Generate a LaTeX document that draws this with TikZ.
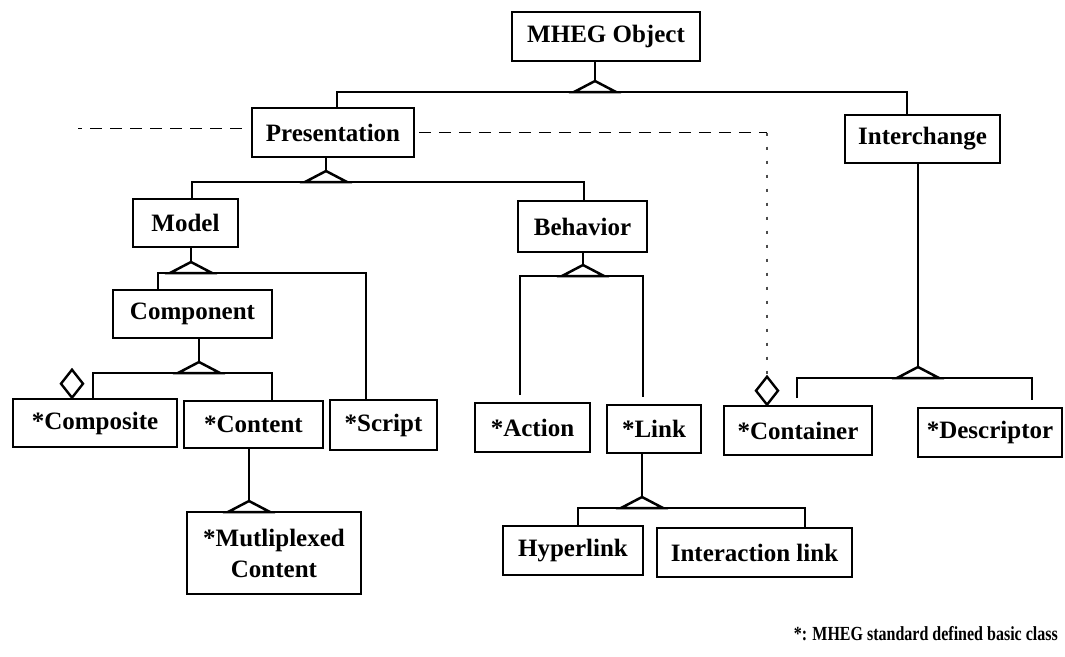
\documentclass[tikz,border=0pt]{standalone}
\usepackage{fontspec}
\setmainfont{Liberation Serif}
\usetikzlibrary{calc}
\begin{document}
\begin{tikzpicture}[x=1pt,y=-1pt,
  cls/.style={draw,line width=2.6pt,inner sep=0pt,fill=white,align=center,
    font=\fontsize{25}{31}\selectfont\bfseries},
  wire/.style={line width=2.5pt},
  gen/.style={draw,line width=2.5pt,fill=white,line join=miter},
  agg/.style={draw,line width=2.4pt,fill=white},
  dep/.style={line width=1.5pt,dash pattern=on 12pt off 8pt},
  trace/.style={line width=1.2pt,black!70,dash pattern=on 3pt off 11pt},
  gentri/.pic={\draw[gen] (0,0) -- (-21,11) -- (21,11) -- cycle;},
  aggdia/.pic={\draw[agg] (0,0) -- (-11,-14) -- (0,-28) -- (11,-14) -- cycle;}]
\useasboundingbox (0,0) rectangle (1065,656);

% classes
\node[cls,minimum width=188pt,minimum height=49pt] (mheg) at (606,36.5) {MHEG Object};
\node[cls,minimum width=162pt,minimum height=49pt] (pres) at (333,132.5) {Presentation};
\node[cls,minimum width=155pt,minimum height=48pt] (inter) at (922.5,139) {Interchange};
\node[cls,minimum width=105pt,minimum height=48pt] (model) at (185.5,223) {Model};
\node[cls,minimum width=129pt,minimum height=51pt] (behav) at (582.5,226.5) {Behavior};
\node[cls,minimum width=159pt,minimum height=48pt] (comp) at (192.5,314) {Component};
\node[cls,minimum width=164pt,minimum height=48pt] (composite) at (95,423) {*Composite};
\node[cls,minimum width=139pt,minimum height=47pt] (content) at (253.5,424.5) {*Content};
\node[cls,minimum width=107pt,minimum height=50pt] (script) at (383.5,425) {*Script};
\node[cls,minimum width=115pt,minimum height=49pt] (action) at (532.5,427.5) {*Action};
\node[cls,minimum width=94pt,minimum height=48pt] (link) at (654,429) {*Link};
\node[cls,minimum width=148pt,minimum height=49pt] (container) at (798,430.5) {*Container};
\node[cls,minimum width=144pt,minimum height=49pt] (descr) at (990,432.5) {*Descriptor};
\node[cls,minimum width=174pt,minimum height=82pt] (mux) at (274,553) {*Mutliplexed\\Content};
\node[cls,minimum width=140pt,minimum height=49pt] (hyper) at (573,550.5) {Hyperlink};
\node[cls,minimum width=195pt,minimum height=49pt] (interlink) at (754.5,552.5) {Interaction link};

% junction points of the generalisation trees
\coordinate (g1) at (595,81);  \coordinate (b1l) at (337,92);  \coordinate (b1r) at (907,92);
\coordinate (g2) at (326,171); \coordinate (b2l) at (192,182); \coordinate (b2r) at (584,182);
\coordinate (g3) at (191,262); \coordinate (b3l) at (158,273); \coordinate (b3r) at (366,273);
\coordinate (g4) at (199,362); \coordinate (b4l) at (93,373);  \coordinate (b4r) at (272,373);
\coordinate (g5) at (249,501);
\coordinate (g6) at (583,265); \coordinate (b6l) at (520,276); \coordinate (b6r) at (643,276);
\coordinate (e6l) at (520,395); \coordinate (e6r) at (643,397);
\coordinate (g7) at (642,497); \coordinate (b7l) at (578,508); \coordinate (b7r) at (805,508);
\coordinate (g8) at (918,367); \coordinate (b8l) at (797,378); \coordinate (b8r) at (1032,378);
\coordinate (e8l) at (797,398); \coordinate (e8r) at (1032,400);
\coordinate (a1) at (72,0);    \coordinate (a2) at (767,0);

% MHEG Object
\draw[wire] (mheg.south -| g1) -- (g1);
\draw[wire] (pres.north -| b1l) -- (b1l) -- (b1r) -- (inter.north -| b1r);
\pic at (g1) {gentri};
% Presentation
\draw[wire] (pres.south -| g2) -- (g2);
\draw[wire] (model.north -| b2l) -- (b2l) -- (b2r) -- (behav.north -| b2r);
\pic at (g2) {gentri};
% Model
\draw[wire] (model.south -| g3) -- (g3);
\draw[wire] (comp.north -| b3l) -- (b3l) -- (b3r) -- (script.north -| b3r);
\pic at (g3) {gentri};
% Component
\draw[wire] (comp.south -| g4) -- (g4);
\draw[wire] (composite.north -| b4l) -- (b4l) -- (b4r) -- (content.north -| b4r);
\pic at (g4) {gentri};
% Content
\draw[wire] (content.south -| g5) -- (g5);
\pic at (g5) {gentri};
% Behavior
\draw[wire] (behav.south -| g6) -- (g6);
\draw[wire] (e6l) -- (b6l) -- (b6r) -- (e6r);
\pic at (g6) {gentri};
% Link
\draw[wire] (link.south -| g7) -- (g7);
\draw[wire] (hyper.north -| b7l) -- (b7l) -- (b7r) -- (interlink.north -| b7r);
\pic at (g7) {gentri};
% Interchange
\draw[wire] (inter.south -| g8) -- (g8);
\draw[wire] (e8l) -- (b8l) -- (b8r) -- (e8r);
\pic at (g8) {gentri};

% aggregation diamonds
\pic at (composite.north -| a1) {aggdia};
\pic at (container.north -| a2) {aggdia};

% dependency from Presentation
\coordinate (dl) at (78,128.5);
\coordinate (dc) at (767,132.5);
\draw[dep] ([xshift=-9pt,yshift=4pt]pres.west) -- (dl);
\draw[dep] ([xshift=4pt]pres.east) -- (dc);
\draw[trace] (dc) -- ($(container.north -| a2)+(0,-28)$);

% legend
\node[anchor=east,inner sep=0pt,font=\fontsize{20}{24}\selectfont\bfseries] (note) at (1058,634)
  {\scalebox{0.8}[1]{*: MHEG standard defined basic class}};
\end{tikzpicture}
\end{document}
